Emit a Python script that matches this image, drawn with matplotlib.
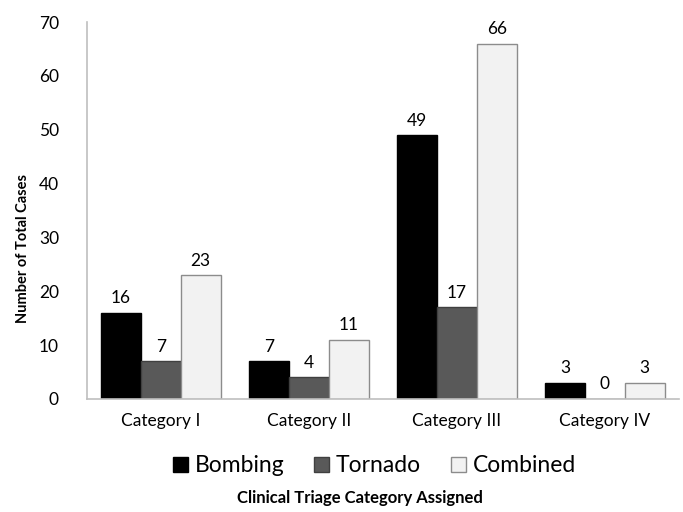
import numpy as np
import matplotlib
matplotlib.use("Agg")
import matplotlib.pyplot as plt

plt.rcParams['font.family'] = ['Lato', 'DejaVu Sans']

categories = ['Category I', 'Category II', 'Category III', 'Category IV']
series_names = ['Bombing', 'Tornado', 'Combined']
bombing = [16, 7, 49, 3]
tornado = [7, 4, 17, 0]
combined = [23, 11, 66, 3]
yticks = [0, 10, 20, 30, 40, 50, 60, 70]

fig = plt.figure(figsize=(6.83, 5.12), dpi=100)
ax = fig.add_axes([0.127, 0.221, 0.867, 0.736])

x = np.arange(len(categories))
w = 0.27
styles = [
    dict(color='#000000', edgecolor='#000000'),
    dict(color='#595959', edgecolor='#404040'),
    dict(color='#f2f2f2', edgecolor='#8c8c8c'),
]
for i, (vals, st) in enumerate(zip([bombing, tornado, combined], styles)):
    pos = x + (i - 1) * w
    bars = ax.bar(pos, vals, w, label=series_names[i], linewidth=1.0, **st)
    for b, v in zip(bars, vals):
        ax.text(b.get_x() + b.get_width() / 2, v + 1.2, str(v),
                ha='center', va='bottom', fontsize=12.5)

ax.set_xlim(-0.5, len(categories) - 0.5)
ax.set_ylim(0, 70)
ax.set_yticks(yticks)
ax.set_xticks(x)
ax.set_xticklabels(categories)
ax.tick_params(axis='both', length=0, labelsize=12.5)
ax.tick_params(axis='x', pad=10)
ax.tick_params(axis='y', pad=20)
for s in ['top', 'right']:
    ax.spines[s].set_visible(False)
for s in ['left', 'bottom']:
    ax.spines[s].set_color('#bfbfbf')
    ax.spines[s].set_linewidth(1.2)

ax.set_ylabel('Number of Total Cases', fontweight='bold', fontsize=10.5)
ax.yaxis.set_label_coords(-0.095, 0.40)
ax.legend(loc='center', bbox_to_anchor=(0.486, -0.178), ncol=3, frameon=False,
          fontsize=16.5, handlelength=0.65, handleheight=0.65, handletextpad=0.3,
          columnspacing=1.3)
fig.text(0.527, 0.027, 'Clinical Triage Category Assigned', ha='center',
         va='center', fontweight='bold', fontsize=12)

fig.savefig('out.png', dpi=100)
